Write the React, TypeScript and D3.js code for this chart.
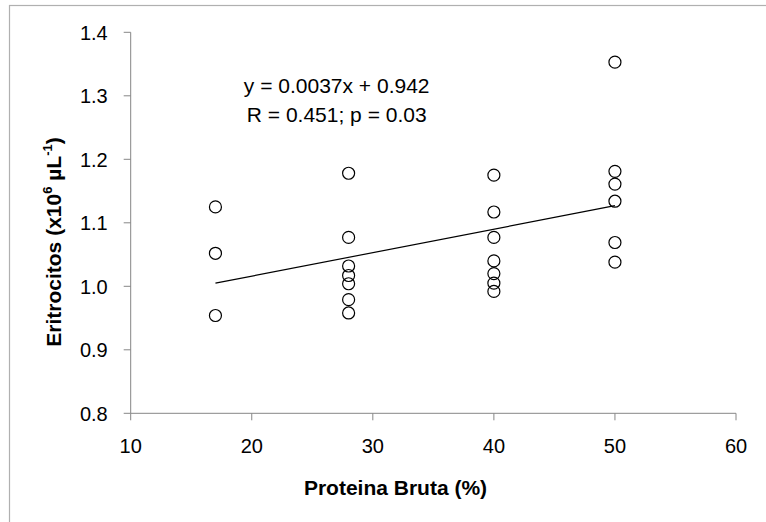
import React from "react";
import * as d3 from "d3";

// Proteina bruta (%) levels and eritrocitos readings (x10^6 uL^-1)
const proteina = [
  17, 17, 17,
  28, 28, 28, 28, 28, 28, 28,
  40, 40, 40, 40, 40, 40, 40,
  50, 50, 50, 50, 50, 50,
];
const eritrocitos = [
  1.125, 1.052, 0.954,
  1.178, 1.077, 1.032, 1.017, 1.004, 0.979, 0.958,
  1.175, 1.117, 1.077, 1.040, 1.020, 1.005, 0.992,
  1.353, 1.181, 1.161, 1.134, 1.069, 1.038,
];
const xTicks = [10, 20, 30, 40, 50, 60];
const yTicks = [0.8, 0.9, 1.0, 1.1, 1.2, 1.3, 1.4];
const slope = 0.0037;
const intercept = 0.942;
const trendRange = [17, 50];

const width = 766;
const height = 522;
const margin = { top: 32.3, right: 30, bottom: 108.7, left: 130.7 };
const font = "'Liberation Sans', Arial, sans-serif";
const axisColor = "#868686";

const App = () => {
  const innerWidth = width - margin.left - margin.right;
  const innerHeight = height - margin.top - margin.bottom;

  const xScale = d3.scaleLinear().domain([10, 60]).range([0, innerWidth]);
  const yScale = d3.scaleLinear().domain([0.8, 1.4]).range([innerHeight, 0]);

  const trend = d3
    .line<number>()
    .x((d) => xScale(d))
    .y((d) => yScale(slope * d + intercept));

  return (
    <svg
      width={width}
      height={height}
      style={{ position: "absolute", left: 0, top: 0, background: "#fff" }}
      fontFamily={font}
    >
      {/* outer chart frame, only left and top edges are visible */}
      <rect x={9.5} y={5.5} width={900} height={700} fill="none" stroke="#b0b0b0" strokeWidth={1.2} />
      <g transform={`translate(${margin.left},${margin.top})`}>
        {
          // Y axis + ticks
          yTicks.map((t) => (
            <g key={t} transform={`translate(0,${yScale(t)})`}>
              <line x1={-7} x2={0} stroke={axisColor} />
              <text x={-23} dy="0.36em" textAnchor="end" fontSize={20} fill="#000">
                {t.toFixed(1)}
              </text>
            </g>
          ))
        }
        <line y1={0} y2={innerHeight} stroke={axisColor} />
        {
          // X axis + ticks
          xTicks.map((t) => (
            <g key={t} transform={`translate(${xScale(t)},${innerHeight})`}>
              <line y1={0} y2={7} stroke={axisColor} />
              <text y={40} textAnchor="middle" fontSize={20} fill="#000">
                {t}
              </text>
            </g>
          ))
        }
        <line x1={0} x2={innerWidth} y1={innerHeight} y2={innerHeight} stroke={axisColor} />

        {/* trend line */}
        <path d={trend(trendRange) || ""} fill="none" stroke="#000" strokeWidth={1.2} />

        {
          // points
          proteina.map((p, i) => (
            <circle
              key={i}
              cx={xScale(p)}
              cy={yScale(eritrocitos[i])}
              r={6}
              fill="none"
              stroke="#000"
              strokeWidth={1.2}
            />
          ))
        }

        <text x={206} y={61} textAnchor="middle" fontSize={21} fill="#000">
          y = 0.0037x + 0.942
        </text>
        <text x={206} y={89.5} textAnchor="middle" fontSize={21} fill="#000">
          R = 0.451; p = 0.03
        </text>
      </g>

      <text x={395.5} y={495} textAnchor="middle" fontSize={21} fontWeight="bold" fill="#000">
        Proteina Bruta (%)
      </text>
      <text
        transform="translate(61,242) rotate(-90)"
        textAnchor="middle"
        fontSize={21}
        fontWeight="bold"
        fill="#000"
      >
        Eritrocitos (x10
        <tspan fontSize={13} dy={-9}>6</tspan>
        <tspan dy={9}> µL</tspan>
        <tspan fontSize={13} dy={-9}>-1</tspan>
        <tspan dy={9}>)</tspan>
      </text>
    </svg>
  );
};

export default App;
